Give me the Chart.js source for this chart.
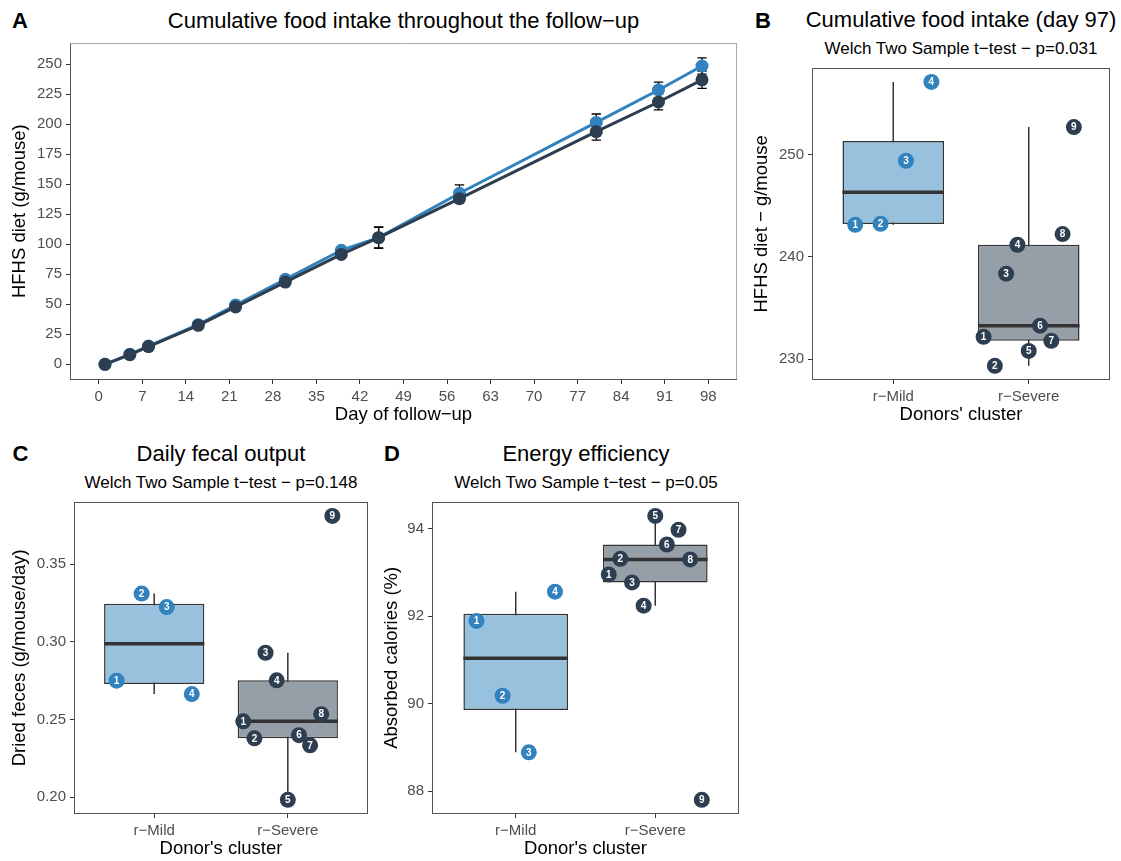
<!DOCTYPE html>
<html><head><meta charset="utf-8">
<script src="https://cdn.jsdelivr.net/npm/chart.js@4.4.0/dist/chart.umd.min.js"></script>
<style>
html,body{margin:0;padding:0;background:#fff;}
#fig{position:relative;width:1121px;height:861px;overflow:hidden;font-family:"Liberation Sans",Arial,Helvetica,sans-serif;background:#fff;}
.t{position:absolute;white-space:nowrap;line-height:1;color:#000;}
.tag{font-weight:bold;font-size:22px;}
.title{font-size:22px;transform:translateX(-50%);}
.sub{font-size:17px;transform:translateX(-50%);}
canvas{position:absolute;}
</style></head><body>
<div id="fig">
  <div class="t tag" style="left:12px;top:10px">A</div>
  <div class="t title" style="left:403.5px;top:10px">Cumulative food intake throughout the follow−up</div>
  <div class="t tag" style="left:755px;top:10px">B</div>
  <div class="t title" style="left:961px;top:9.3px">Cumulative food intake (day 97)</div>
  <div class="t sub" style="left:961px;top:40px">Welch Two Sample t−test − p=0.031</div>
  <div class="t tag" style="left:12.5px;top:443.3px">C</div>
  <div class="t title" style="left:221px;top:443.3px">Daily fecal output</div>
  <div class="t sub" style="left:221px;top:474.2px">Welch Two Sample t−test − p=0.148</div>
  <div class="t tag" style="left:384px;top:443.3px">D</div>
  <div class="t title" style="left:586px;top:443.3px">Energy efficiency</div>
  <div class="t sub" style="left:586px;top:474.2px">Welch Two Sample t−test − p=0.05</div>
  <canvas id="cA" width="745" height="390" style="left:0;top:40px"></canvas>
  <canvas id="cB" width="376" height="370" style="left:745px;top:60px"></canvas>
  <canvas id="cC" width="380" height="366" style="left:0;top:495px"></canvas>
  <canvas id="cD" width="370" height="366" style="left:380px;top:495px"></canvas>
</div>
<script>
// ---------------- DATA ----------------
const days = [1, 5, 8, 16, 22, 30, 39, 45, 58, 80, 90, 97];
const mildIntake   = [0, 8.3, 15.2, 33.0, 49.3, 70.8, 95.0, 105.5, 142.5, 201.5, 228.5, 248.5];
const severeIntake = [0, 8.0, 14.8, 32.5, 47.8, 68.5, 91.5, 105.5, 138.0, 193.8, 218.5, 237.0];
const mildSE   = [0.3, 0.6, 0.8, 1.2, 1.5, 2.0, 2.5, 8.5, 7.0, 7.0, 6.5, 6.8];
const severeSE = [0.3, 0.6, 0.8, 1.2, 1.5, 2.0, 2.5, 9.0, 3.5, 7.0, 6.5, 7.2];
const dayTicks = [0, 7, 14, 21, 28, 35, 42, 49, 56, 63, 70, 77, 84, 91, 98];
const intakeTicks = [0, 25, 50, 75, 100, 125, 150, 175, 200, 225, 250];

const groups = ['r−Mild', 'r−Severe'];

const bMild   = [243.14, 243.24, 249.41, 257.12];
const bSevere = [232.18, 229.35, 238.36, 241.19, 230.81, 233.28, 231.79, 242.23, 252.70];
const bTicks  = [230, 240, 250];
const bTickLabels = ['230', '240', '250'];

const cMild   = [0.2750, 0.3311, 0.3224, 0.2664];
const cSevere = [0.2488, 0.2379, 0.2930, 0.2752, 0.1983, 0.2399, 0.2334, 0.2534, 0.3811];
const cTicks  = [0.20, 0.25, 0.30, 0.35];
const cTickLabels = ['0.20', '0.25', '0.30', '0.35'];

const dMild   = [91.888, 90.179, 88.888, 92.556];
const dSevere = [92.951, 93.307, 92.768, 92.237, 94.287, 93.634, 93.968, 93.292, 87.803];
const dTicks  = [88, 90, 92, 94];
const dTickLabels = ['88', '90', '92', '94'];

// ---------------- STYLE ----------------
const FONT = '"Liberation Sans", Arial, Helvetica, sans-serif';
const BLUE = '#3182bd', NAVY = '#2c3e50';
const BLUE_FILL = '#98c1de', NAVY_FILL = '#969ea8';
const INK = '#333333';

// ---------------- PLUGINS ----------------
const framePlugin = {
  id: 'frame',
  afterDatasetsDraw(chart, args, o) {
    const {ctx, chartArea: a} = chart;
    const l = Math.round(a.left) + 0.5, r = Math.round(a.right) - 0.5;
    const t = Math.round(a.top) + 0.5, b = Math.round(a.bottom) - 0.5;
    ctx.save();
    ctx.lineWidth = 1;
    const seg = (c, x1, y1, x2, y2) => { ctx.strokeStyle = c; ctx.beginPath(); ctx.moveTo(x1, y1); ctx.lineTo(x2, y2); ctx.stroke(); };
    seg(o.top || '#555', l - 0.5, t, r + 0.5, t);
    seg(o.right || '#555', r, t, r, b);
    seg(o.bottom || '#555', l - 0.5, b, r + 0.5, b);
    seg(o.left || '#555', l, t, l, b + 0.5);
    ctx.restore();
  }
};

const errorBarPlugin = {
  id: 'errbars',
  beforeDatasetsDraw(chart) {
    const {ctx} = chart;
    const xs = chart.scales.x, ys = chart.scales.y;
    ctx.save();
    ctx.strokeStyle = '#000';
    ctx.lineWidth = 1.3;
    chart.data.datasets.forEach(ds => {
      if (!ds.errors) return;
      ds.data.forEach((p, i) => {
        const se = ds.errors[i];
        const x = xs.getPixelForValue(p.x);
        const x1 = xs.getPixelForValue(p.x - 0.75), x2 = xs.getPixelForValue(p.x + 0.75);
        const yt = ys.getPixelForValue(p.y + se), yb = ys.getPixelForValue(p.y - se);
        ctx.beginPath();
        ctx.moveTo(x, yt); ctx.lineTo(x, yb);
        ctx.moveTo(x1, yt); ctx.lineTo(x2, yt);
        ctx.moveTo(x1, yb); ctx.lineTo(x2, yb);
        ctx.stroke();
      });
    });
    ctx.restore();
  }
};

const labelPlugin = {
  id: 'ptlabels',
  afterDatasetsDraw(chart) {
    const {ctx} = chart;
    ctx.save();
    ctx.fillStyle = '#fff';
    ctx.font = 'bold 10px ' + FONT;
    ctx.textAlign = 'center';
    ctx.textBaseline = 'middle';
    chart.data.datasets.forEach((ds, di) => {
      if (!ds.pointLabels) return;
      chart.getDatasetMeta(di).data.forEach((el, i) => {
        ctx.fillText(ds.pointLabels[i], el.x, el.y + 0.5);
      });
    });
    ctx.restore();
  }
};

// ---------------- HELPERS ----------------
function tickOpts() {
  return {color: '#4d4d4d', font: {family: FONT, size: 15}, padding: 4, autoSkip: false, maxRotation: 0, minRotation: 0};
}
function gridOpts() {
  return {display: true, offset: false, drawOnChartArea: false, drawTicks: true, tickLength: 4, color: INK, lineWidth: 1};
}
function titleOpts(text, pad) {
  return {display: true, text: text, color: '#000', font: {family: FONT, size: 18.5}, padding: pad};
}
function expand(lo, hi) { const d = (hi - lo) * 0.05; return [lo - d, hi + d]; }
function fixX(h) { return s => { s.height = h; s.paddingLeft = 0; s.paddingRight = 0; }; }
function fixY(w) { return s => { s.width = w; s.paddingTop = 0; s.paddingBottom = 0; }; }

function quantile(sorted, p) {
  const h = (sorted.length - 1) * p, lo = Math.floor(h);
  const nx = lo + 1 < sorted.length ? sorted[lo + 1] : sorted[lo];
  return sorted[lo] + (h - lo) * (nx - sorted[lo]);
}
function boxStats(vals) {
  const s = [...vals].sort((a, b) => a - b);
  const q1 = quantile(s, 0.25), med = quantile(s, 0.5), q3 = quantile(s, 0.75);
  const iqr = q3 - q1;
  const lo = s.find(v => v >= q1 - 1.5 * iqr);
  const hi = [...s].reverse().find(v => v <= q3 + 1.5 * iqr);
  return {q1, med, q3, lo, hi};
}
function dodge(center, n, i) { return center - 0.375 + (0.75 / n) * (i + 0.5); }

const common = {
  responsive: false, animation: false, devicePixelRatio: 1,
  plugins: {legend: {display: false}, tooltip: {enabled: false}, title: {display: false}}
};

// ---------------- PANEL A ----------------
(function () {
  const all = [];
  mildIntake.forEach((v, i) => { all.push(v + mildSE[i], v - mildSE[i]); });
  severeIntake.forEach((v, i) => { all.push(v + severeSE[i], v - severeSE[i]); });
  const [ymin, ymax] = expand(Math.min(...all), Math.max(...all));
  const [xmin, xmax] = expand(days[0] - 0.75, days[days.length - 1] + 0.75);
  new Chart(document.getElementById('cA'), {
    type: 'scatter',
    data: {
      datasets: [
        {type: 'line', data: days.map((d, i) => ({x: d, y: severeIntake[i]})), errors: severeSE,
         borderColor: NAVY, backgroundColor: NAVY, borderWidth: 3, pointRadius: 6.5, pointBorderWidth: 0,
         pointBackgroundColor: NAVY, borderJoinStyle: 'round', borderCapStyle: 'round', order: 0},
        {type: 'line', data: days.map((d, i) => ({x: d, y: mildIntake[i]})), errors: mildSE,
         borderColor: BLUE, backgroundColor: BLUE, borderWidth: 3, pointRadius: 6.5, pointBorderWidth: 0,
         pointBackgroundColor: BLUE, borderJoinStyle: 'round', borderCapStyle: 'round', order: 1}
      ]
    },
    options: Object.assign({}, common, {
      layout: {autoPadding: false, padding: {top: 2.5, right: 8, left: 0, bottom: 0}},
      plugins: Object.assign({}, common.plugins, {frame: {top: '#aaaaaa', right: '#aaaaaa', bottom: '#555555', left: '#555555'}}),
      scales: {
        x: {type: 'linear', min: xmin, max: xmax, bounds: 'data', offset: false,
            afterBuildTicks: s => { s.ticks = dayTicks.map(v => ({value: v})); },
            ticks: Object.assign(tickOpts(), {callback: v => String(v)}),
            grid: gridOpts(), border: {display: false},
            title: titleOpts('Day of follow−up', {top: 0, bottom: 3.9}),
            afterFit: fixX(50)},
        y: {type: 'linear', min: ymin, max: ymax, bounds: 'data',
            afterBuildTicks: s => { s.ticks = intakeTicks.map(v => ({value: v})); },
            ticks: Object.assign(tickOpts(), {callback: v => String(v)}),
            grid: gridOpts(), border: {display: false},
            title: titleOpts('HFHS diet (g/mouse)', {top: 8.9, bottom: 0}),
            afterFit: fixY(70)}
      }
    }),
    plugins: [errorBarPlugin, framePlugin]
  });
})();

// ---------------- BOX PANELS ----------------
function boxChart(id, mild, severe, ticks, tickLabels, yTitle, xTitle, geo) {
  const sm = boxStats(mild), ss = boxStats(severe);
  const [ymin, ymax] = expand(Math.min(...mild, ...severe), Math.max(...mild, ...severe));
  new Chart(document.getElementById(id), {
    type: 'scatter',
    data: {
      datasets: [
        {type: 'line', order: 4, borderColor: INK, borderWidth: 1.5, pointRadius: 0, spanGaps: false,
         data: [{x: 1, y: sm.lo}, {x: 1, y: sm.hi}, {x: 1.5, y: null}, {x: 2, y: ss.lo}, {x: 2, y: ss.hi}]},
        {type: 'bar', order: 3, data: [{x: 1, y: [sm.q1, sm.q3]}, {x: 2, y: [ss.q1, ss.q3]}],
         backgroundColor: [BLUE_FILL, NAVY_FILL], borderColor: INK, borderWidth: 1.5, borderSkipped: false,
         barPercentage: 0.75, categoryPercentage: 1},
        {type: 'line', order: 2, borderColor: INK, borderWidth: 3.5, pointRadius: 0, spanGaps: false,
         data: [{x: 0.625, y: sm.med}, {x: 1.375, y: sm.med}, {x: 1.5, y: null}, {x: 1.625, y: ss.med}, {x: 2.375, y: ss.med}]},
        {type: 'scatter', order: 1, pointRadius: 8, pointBorderWidth: 0, backgroundColor: BLUE, pointBackgroundColor: BLUE,
         data: mild.map((v, i) => ({x: dodge(1, mild.length, i), y: v})), pointLabels: mild.map((v, i) => String(i + 1))},
        {type: 'scatter', order: 0, pointRadius: 8, pointBorderWidth: 0, backgroundColor: NAVY, pointBackgroundColor: NAVY,
         data: severe.map((v, i) => ({x: dodge(2, severe.length, i), y: v})), pointLabels: severe.map((v, i) => String(i + 1))}
      ]
    },
    options: Object.assign({}, common, {
      layout: {autoPadding: false, padding: {top: geo.top, right: geo.right, left: 0, bottom: 0}},
      plugins: Object.assign({}, common.plugins, {frame: {top: '#555555', right: '#555555', bottom: '#555555', left: '#555555'}}),
      scales: {
        x: {type: 'linear', min: 0.4, max: 2.6, bounds: 'data', offset: false,
            afterBuildTicks: s => { s.ticks = [{value: 1}, {value: 2}]; },
            ticks: Object.assign(tickOpts(), {callback: (v, i) => groups[i]}),
            grid: gridOpts(), border: {display: false},
            title: titleOpts(xTitle, {top: 0, bottom: geo.xTitlePad}),
            afterFit: fixX(geo.xh)},
        y: {type: 'linear', min: ymin, max: ymax, bounds: 'data',
            afterBuildTicks: s => { s.ticks = ticks.map(v => ({value: v})); },
            ticks: Object.assign(tickOpts(), {callback: (v, i) => tickLabels[i]}),
            grid: gridOpts(), border: {display: false},
            title: titleOpts(yTitle, {top: geo.yTitlePad, bottom: 0}),
            afterFit: fixY(geo.yw)}
      }
    }),
    plugins: [framePlugin, labelPlugin]
  });
}

boxChart('cB', bMild, bSevere, bTicks, bTickLabels, 'HFHS diet − g/mouse', "Donors' cluster",
  {top: 7.7, right: 11, yw: 67, xh: 50, xTitlePad: 3.9, yTitlePad: 5.9});
boxChart('cC', cMild, cSevere, cTicks, cTickLabels, 'Dried feces (g/mouse/day)', "Donor's cluster",
  {top: 6.7, right: 12, yw: 74, xh: 47, xTitlePad: 0.9, yTitlePad: 8.9});
boxChart('cD', dMild, dSevere, dTicks, dTickLabels, 'Absorbed calories (%)', "Donor's cluster",
  {top: 6.7, right: 11, yw: 52, xh: 47, xTitlePad: 0.9, yTitlePad: 0.9});
</script>
</body></html>
